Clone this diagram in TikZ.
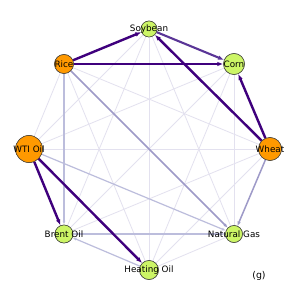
\documentclass[tikz,border=0pt]{standalone}
\usepackage{fontspec}
\setmainfont{DejaVu Sans}
\usetikzlibrary{arrows.meta}
\definecolor{dark}{HTML}{3F007D}
\definecolor{darkmid}{HTML}{5A3597}
\definecolor{mid}{HTML}{9E9AC8}
\definecolor{lmid}{HTML}{BCBDDC}
\definecolor{faint}{HTML}{E3E1EF}
\definecolor{orng}{HTML}{FF9900}
\definecolor{grn}{HTML}{CCF566}
\tikzset{
  vtx/.style={circle, draw=black!75, line width=0.5pt, inner sep=0pt, minimum size=#1},
  ovtx/.style={vtx=#1, fill=orng},
  gvtx/.style={vtx=#1, fill=grn},
  lbl/.style={font=\fontsize{8.8}{10}\selectfont, text=black, inner sep=0pt},
  strong/.style={draw=dark, line width=2.4pt, -{Latex[length=6pt,width=4.6pt]}},
  strongb/.style={draw=darkmid, line width=2.1pt, -{Latex[length=6pt,width=4.6pt]}},
  medium/.style={draw=mid, line width=1.5pt, -{Latex[length=4.5pt,width=3.4pt]}},
  lmedium/.style={draw=lmid, line width=1.2pt, -{Latex[length=4pt,width=3pt]}},
  weak/.style={draw=faint, line width=0.8pt},
}
\begin{document}
\begin{tikzpicture}[x=1pt,y=-1pt]
\useasboundingbox[fill=white] (0,0) rectangle (299,299);
% nodes (shapes)
\node[gvtx=16pt]  (S) at (149,29)  {};
\node[gvtx=21pt]  (C) at (234,64)  {};
\node[ovtx=23pt]  (W) at (270,149) {};
\node[gvtx=17pt]  (N) at (234,234) {};
\node[gvtx=19pt]  (H) at (149,270) {};
\node[gvtx=18pt]  (B) at (64,234)  {};
\node[ovtx=27pt]  (T) at (29,149)  {};
\node[ovtx=19pt]  (R) at (64,64)   {};
% faint edges
\foreach \a/\b in {S/N,S/H,S/B,S/T,C/N,C/H,C/B,C/T,W/H,W/B,W/T,W/R,N/H,H/R,T/R}
  \draw[weak] (\a) -- (\b);
% light-medium edges
\draw[lmedium] (R) -- (B);
\draw[lmedium] (T) -- (N);
\draw[lmedium] (B) -- (N);
\draw[lmedium] (H) -- (B);
% medium edges
\draw[medium] (R) -- (N);
\draw[medium] (W) -- (N);
% strong edges
\draw[strongb] (S) -- (C);
\draw[strong] (R) -- (S);
\draw[strong] (R) -- (C);
\draw[strong] (W) -- (S);
\draw[strong] (W) -- (C);
\draw[strong] (T) -- (B);
\draw[strong] (T) -- (H);
% redraw nodes on top
\node[gvtx=16pt]  at (S) {};
\node[gvtx=21pt]  at (C) {};
\node[ovtx=23pt]  at (W) {};
\node[gvtx=17pt]  at (N) {};
\node[gvtx=19pt]  at (H) {};
\node[gvtx=18pt]  at (B) {};
\node[ovtx=27pt]  at (T) {};
\node[ovtx=19pt]  at (R) {};
% labels
\node[lbl] (lS) at (S) {Soybean};
\node[lbl] (lC) at (C) {Corn};
\node[lbl] (lW) at (W) {Wheat};
\node[lbl] (lN) at (N) {Natural Gas};
\node[lbl] (lH) at (H) {Heating Oil};
\node[lbl] (lB) at (B) {Brent Oil};
\node[lbl] (lT) at (T) {WTI Oil};
\node[lbl] (lR) at (R) {Rice};
\node[lbl, font=\fontsize{9.4}{11}\selectfont] (g) at (259,276) {(g)};
\end{tikzpicture}
\end{document}
